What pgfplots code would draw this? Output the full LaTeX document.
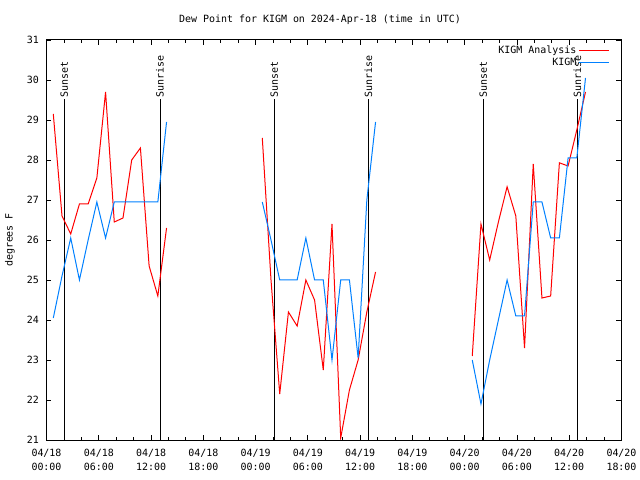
\documentclass[border=0pt]{standalone}
\usepackage{fontspec}
\setmainfont{DejaVu Sans Mono}
\usepackage{pgfplots}
\pgfplotsset{compat=1.18}
\definecolor{gred}{RGB}{255,0,0}
\definecolor{gblue}{RGB}{0,128,255}
\begin{document}
\fontsize{10}{12}\selectfont
\begin{tikzpicture}
\useasboundingbox (0,0) rectangle (640bp,480bp);
\node at (320bp,460bp) {Dew Point for KIGM on 2024-Apr-18 (time in UTC)};
\node[rotate=90] at (10bp,240bp) {degrees F};
\begin{axis}[at={(46.5bp,40bp)}, anchor=south west, scale only axis,
  width=575bp, height=400bp,
  xmin=0, xmax=66, ymin=21, ymax=31,
  xtick={0,6,...,66}, minor xtick={0,2,...,66}, ytick={21,22,...,31},
  xticklabels={{04/18\\00:00},{04/18\\06:00},{04/18\\12:00},{04/18\\18:00},{04/19\\00:00},{04/19\\06:00},{04/19\\12:00},{04/19\\18:00},{04/20\\00:00},{04/20\\06:00},{04/20\\12:00},{04/20\\18:00}},
  tick align=inside, major tick length=5bp, minor tick length=3bp,
  axis line style={line width=1bp},
  every tick/.style={black, line width=0.8bp},
  tick label style={font=\fontsize{10}{13.5}\selectfont},
  x tick label style={align=center, yshift=-6bp},
  y tick label style={xshift=-4bp},
  /pgf/number format/assume math mode=true,
  legend style={at={(1,1)}, anchor=north east, xshift=-9bp, yshift=-2bp,
    draw=none, fill=none, row sep=-1bp},
  legend cell align=right, legend plot pos=right,
  legend image code/.code={\draw[#1] plot coordinates {(0bp,0bp) (30bp,0bp)};},
]
% sunset / sunrise lines
\addplot[black, line width=1bp, forget plot] coordinates {(2.04,21) (2.04,29.53)};
\addplot[black, line width=1bp, forget plot] coordinates {(13.03,21) (13.03,29.53)};
\addplot[black, line width=1bp, forget plot] coordinates {(26.15,21) (26.15,29.53)};
\addplot[black, line width=1bp, forget plot] coordinates {(36.94,21) (36.94,29.53)};
\addplot[black, line width=1bp, forget plot] coordinates {(50.14,21) (50.14,29.53)};
\addplot[black, line width=1bp, forget plot] coordinates {(60.93,21) (60.93,29.53)};
\node[rotate=90, anchor=west, inner sep=1.5bp] at (axis cs:2.04,29.53) {Sunset};
\node[rotate=90, anchor=west, inner sep=1.5bp] at (axis cs:13.03,29.53) {Sunrise};
\node[rotate=90, anchor=west, inner sep=1.5bp] at (axis cs:26.15,29.53) {Sunset};
\node[rotate=90, anchor=west, inner sep=1.5bp] at (axis cs:36.94,29.53) {Sunrise};
\node[rotate=90, anchor=west, inner sep=1.5bp] at (axis cs:50.14,29.53) {Sunset};
\node[rotate=90, anchor=west, inner sep=1.5bp] at (axis cs:60.93,29.53) {Sunrise};
% KIGM Analysis
\addplot[color=gred, draw=gred, line width=1bp] coordinates {
(0.78,29.15) (1.78,26.6) (2.78,26.15) (3.78,26.9) (4.78,26.9) (5.78,27.55) (6.78,29.7)
(7.78,26.45) (8.78,26.55) (9.78,28.0) (10.78,28.3) (11.78,25.35) (12.78,24.6) (13.78,26.3)};
\addlegendentry{KIGM Analysis}
% KIGM
\addplot[color=gblue, draw=gblue, line width=1bp] coordinates {
(0.78,24.05) (1.78,25.1) (2.78,26.05) (3.78,25.0) (4.78,26.0) (5.78,26.95) (6.78,26.05)
(7.78,26.95) (8.78,26.95) (9.78,26.95) (10.78,26.95) (11.78,26.95) (12.78,26.95) (13.78,28.95)};
\addlegendentry{KIGM}
\addplot[color=gred, line width=1bp, forget plot] coordinates {
(24.77,28.55) (25.77,25.0) (26.77,22.15) (27.77,24.2) (28.77,23.85) (29.77,25.0) (30.77,24.5)
(31.77,22.75) (32.77,26.4) (33.77,21.05) (34.77,22.25) (35.77,23.0) (36.77,24.2) (37.77,25.2)};
\addplot[color=gblue, line width=1bp, forget plot] coordinates {
(24.77,26.95) (25.77,26.0) (26.77,25.0) (27.77,25.0) (28.77,25.0) (29.77,26.05) (30.77,25.0)
(31.77,25.0) (32.77,23.0) (33.77,25.0) (34.77,25.0) (35.77,23.05) (36.77,27.0) (37.77,28.95)};
\addplot[color=gred, line width=1bp, forget plot] coordinates {
(48.87,23.1) (49.87,26.4) (50.87,25.5) (51.87,26.45) (52.87,27.33) (53.87,26.6) (54.87,23.3)
(55.87,27.9) (56.87,24.55) (57.87,24.6) (58.87,27.93) (59.87,27.85) (60.87,28.75) (61.87,29.7)};
\addplot[color=gblue, line width=1bp, forget plot] coordinates {
(48.87,23.0) (49.87,21.9) (50.87,23.0) (51.87,24.0) (52.87,25.0) (53.87,24.1) (54.87,24.1)
(55.87,26.95) (56.87,26.95) (57.87,26.05) (58.87,26.05) (59.87,28.05) (60.87,28.05) (61.87,30.05)};
\end{axis}
\end{tikzpicture}
\end{document}
